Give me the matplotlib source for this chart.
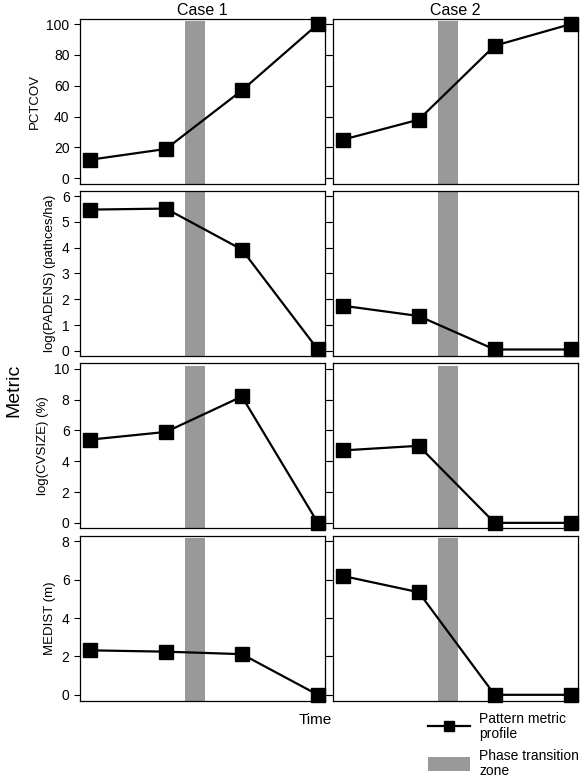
import matplotlib
matplotlib.use("Agg")
import matplotlib.pyplot as plt
from matplotlib.lines import Line2D
from matplotlib.patches import Patch

plt.rcParams["font.family"] = ["Liberation Sans", "DejaVu Sans"]

time_steps = [1, 2, 3, 4]
cases = ["Case 1", "Case 2"]
metric_labels = ["PCTCOV", "log(PADENS) (pathces/ha)", "log(CVSIZE) (%)", "MEDIST (m)"]

pctcov = [[12, 19, 57, 100], [25, 38, 86, 100]]
padens = [[5.48, 5.52, 3.93, 0.05], [1.75, 1.35, 0.05, 0.05]]
cvsize = [[5.4, 5.9, 8.2, 0.0], [4.7, 5.0, 0.0, 0.0]]
medist = [[2.32, 2.25, 2.12, 0.0], [6.2, 5.35, 0.0, 0.0]]
series = [pctcov, padens, cvsize, medist]

y_ticks = [[0, 20, 40, 60, 80, 100], [0, 1, 2, 3, 4, 5, 6], [0, 2, 4, 6, 8, 10], [0, 2, 4, 6, 8]]
y_limits = [(-3.5, 103.5), (-0.2, 6.2), (-0.35, 10.35), (-0.3, 8.3)]
band_top = [102, 6.2, 10.2, 8.2]
band_x = (2.25, 2.52)
band_color = "#999999"


def main():
    fig, axes = plt.subplots(4, 2, figsize=(5.8, 7.81), dpi=100)
    fig.subplots_adjust(left=0.138, right=0.997, top=0.976, bottom=0.103,
                        wspace=0.03, hspace=0.045)

    for r in range(4):
        for c in range(2):
            ax = axes[r, c]
            lo, hi = y_limits[r]
            ax.fill_between(band_x, lo, band_top[r], color=band_color, lw=0, zorder=1)
            ax.plot(time_steps, series[r][c], color="black", lw=1.6,
                    marker="s", markersize=10, zorder=3, clip_on=False)
            ax.set_xlim(0.87, 4.1)
            ax.set_ylim(lo, hi)
            ax.set_xticks([])
            ax.set_yticks(y_ticks[r])
            ax.tick_params(axis="y", labelsize=10, length=4, width=0.8)
            for s in ax.spines.values():
                s.set_linewidth(0.9)
            if c == 0:
                ax.set_ylabel(metric_labels[r], fontsize=9.5)
                ax.tick_params(axis="y", right=True)
            else:
                ax.tick_params(axis="y", labelleft=False)
            if r == 0:
                ax.set_title(cases[c], fontsize=11.5, pad=3)

    fig.text(0.543, 0.073, "Time", fontsize=11, ha="center")
    fig.text(0.01, 0.5, "Metric", fontsize=14, rotation=90, va="center")

    handles = [
        Line2D([], [], color="black", lw=1.6, marker="s", markersize=7),
        Patch(facecolor=band_color, edgecolor="none"),
    ]
    leg = fig.legend(handles, ["Pattern metric\nprofile", "Phase transition\nzone"],
                     loc="upper left", bbox_to_anchor=(0.738, 0.088), frameon=False,
                     fontsize=10, handlelength=3.0, handleheight=1.2,
                     labelspacing=0.6, handletextpad=0.7,
                     borderpad=0, borderaxespad=0)
    for t in leg.get_texts():
        t.set_linespacing(1.05)

    fig.savefig("out.png", dpi=100)
    plt.close(fig)


if __name__ == "__main__":
    main()
